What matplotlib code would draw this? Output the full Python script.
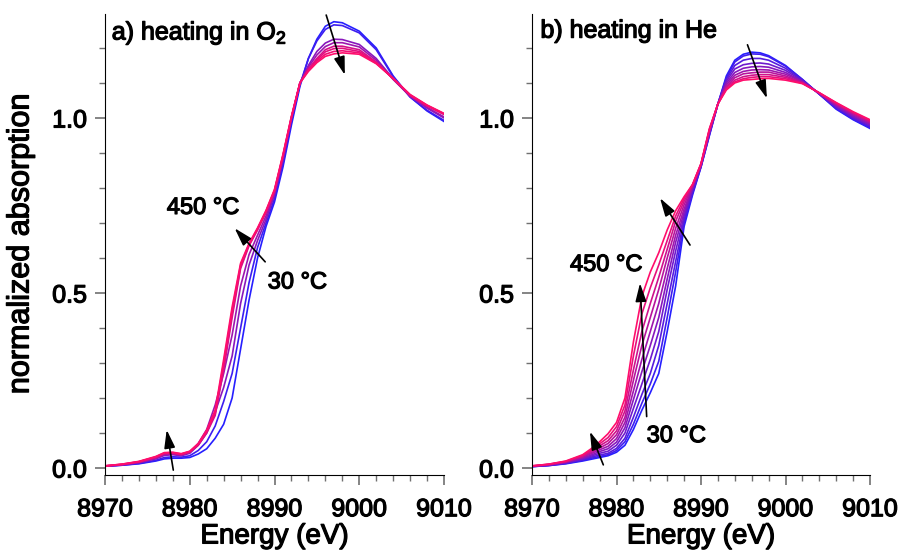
import numpy as np
import matplotlib
matplotlib.use("Agg")
import matplotlib.pyplot as plt
import matplotlib.patheffects as pe
from matplotlib.ticker import MultipleLocator

plt.rcParams['font.family'] = ['Liberation Sans', 'DejaVu Sans']
plt.rcParams['mathtext.fontset'] = 'custom'
plt.rcParams['mathtext.rm'] = 'Liberation Sans'

# energy grid (eV)
energy = [8970, 8972, 8974, 8976, 8977, 8978, 8979, 8980, 8981, 8982, 8983,
          8984, 8985, 8986, 8987, 8988, 8989, 8990, 8991, 8992, 8993, 8994,
          8995, 8996, 8997, 8998, 9000, 9002, 9004, 9006, 9008, 9010]

# a) heating in O2, 30 C (blue) -> 450 C (pink)
o2_1 = [0.005, 0.008, 0.012, 0.020, 0.026, 0.028, 0.028, 0.030, 0.040, 0.055, 0.085,
        0.125, 0.200, 0.340, 0.480, 0.600, 0.690, 0.760, 0.860, 0.980, 1.090, 1.170,
        1.225, 1.262, 1.275, 1.272, 1.248, 1.200, 1.120, 1.060, 1.020, 0.990]
o2_2 = [0.005, 0.008, 0.013, 0.022, 0.030, 0.032, 0.031, 0.035, 0.050, 0.075, 0.120,
        0.190, 0.270, 0.400, 0.530, 0.630, 0.700, 0.770, 0.870, 0.990, 1.095, 1.170,
        1.220, 1.253, 1.266, 1.264, 1.243, 1.195, 1.118, 1.060, 1.022, 0.993]
o2_3 = [0.005, 0.009, 0.015, 0.026, 0.036, 0.038, 0.035, 0.042, 0.065, 0.100, 0.160,
        0.230, 0.320, 0.470, 0.580, 0.650, 0.710, 0.780, 0.880, 1.000, 1.100, 1.150,
        1.190, 1.214, 1.225, 1.224, 1.210, 1.170, 1.112, 1.062, 1.028, 1.000]
o2_4 = [0.005, 0.009, 0.016, 0.028, 0.038, 0.040, 0.037, 0.045, 0.070, 0.110, 0.180,
        0.270, 0.380, 0.520, 0.610, 0.665, 0.720, 0.785, 0.885, 1.000, 1.100, 1.145,
        1.180, 1.204, 1.215, 1.215, 1.203, 1.165, 1.110, 1.062, 1.030, 1.003]
o2_5 = [0.006, 0.010, 0.017, 0.030, 0.041, 0.042, 0.038, 0.045, 0.065, 0.100, 0.150,
        0.280, 0.430, 0.570, 0.635, 0.680, 0.730, 0.790, 0.890, 1.000, 1.100, 1.140,
        1.170, 1.195, 1.205, 1.205, 1.195, 1.160, 1.112, 1.064, 1.034, 1.010]
o2_6 = [0.006, 0.010, 0.018, 0.031, 0.042, 0.043, 0.039, 0.046, 0.067, 0.104, 0.155,
        0.290, 0.440, 0.575, 0.638, 0.682, 0.732, 0.792, 0.892, 1.002, 1.100, 1.138,
        1.166, 1.189, 1.198, 1.199, 1.190, 1.158, 1.112, 1.065, 1.035, 1.011]
o2_7 = [0.006, 0.011, 0.018, 0.032, 0.043, 0.044, 0.040, 0.047, 0.068, 0.106, 0.160,
        0.300, 0.450, 0.580, 0.640, 0.684, 0.734, 0.794, 0.894, 1.004, 1.100, 1.136,
        1.162, 1.182, 1.190, 1.192, 1.186, 1.156, 1.113, 1.066, 1.036, 1.012]
o2_8 = [0.006, 0.011, 0.019, 0.033, 0.044, 0.045, 0.041, 0.048, 0.070, 0.108, 0.165,
        0.310, 0.460, 0.585, 0.642, 0.686, 0.736, 0.796, 0.896, 1.005, 1.100, 1.133,
        1.158, 1.176, 1.183, 1.186, 1.182, 1.155, 1.113, 1.067, 1.037, 1.013]

# b) heating in He, 30 C (blue) -> 450 C (pink)
he_1 = [0.004, 0.007, 0.012, 0.020, 0.025, 0.030, 0.035, 0.045, 0.065, 0.110, 0.165,
        0.215, 0.270, 0.390, 0.520, 0.690, 0.780, 0.860, 0.950, 1.040, 1.120, 1.165,
        1.182, 1.188, 1.186, 1.178, 1.150, 1.110, 1.068, 1.025, 0.995, 0.970]
he_2 = [0.004, 0.007, 0.013, 0.022, 0.028, 0.033, 0.038, 0.050, 0.075, 0.125, 0.185,
        0.240, 0.305, 0.430, 0.560, 0.700, 0.785, 0.860, 0.952, 1.040, 1.115, 1.160,
        1.177, 1.183, 1.182, 1.175, 1.148, 1.110, 1.068, 1.027, 0.997, 0.973]
he_3 = [0.004, 0.008, 0.014, 0.024, 0.031, 0.037, 0.042, 0.056, 0.085, 0.145, 0.210,
        0.270, 0.350, 0.470, 0.590, 0.710, 0.790, 0.862, 0.955, 1.040, 1.110, 1.150,
        1.165, 1.170, 1.170, 1.165, 1.142, 1.108, 1.068, 1.030, 1.000, 0.976]
he_4 = [0.005, 0.008, 0.015, 0.026, 0.034, 0.042, 0.048, 0.065, 0.100, 0.170, 0.240,
        0.310, 0.390, 0.510, 0.620, 0.720, 0.795, 0.864, 0.957, 1.040, 1.105, 1.140,
        1.152, 1.156, 1.157, 1.154, 1.136, 1.106, 1.069, 1.032, 1.003, 0.979]
he_5 = [0.005, 0.009, 0.016, 0.028, 0.037, 0.047, 0.055, 0.074, 0.115, 0.195, 0.275,
        0.350, 0.430, 0.540, 0.645, 0.730, 0.800, 0.865, 0.960, 1.040, 1.100, 1.130,
        1.142, 1.146, 1.147, 1.145, 1.130, 1.104, 1.070, 1.035, 1.006, 0.982]
he_6 = [0.005, 0.009, 0.017, 0.030, 0.041, 0.052, 0.062, 0.084, 0.130, 0.220, 0.310,
        0.390, 0.470, 0.570, 0.665, 0.740, 0.803, 0.866, 0.962, 1.040, 1.095, 1.122,
        1.133, 1.137, 1.138, 1.137, 1.125, 1.103, 1.070, 1.037, 1.009, 0.985]
he_7 = [0.005, 0.010, 0.018, 0.032, 0.044, 0.057, 0.070, 0.095, 0.145, 0.250, 0.350,
        0.430, 0.510, 0.600, 0.685, 0.752, 0.806, 0.867, 0.964, 1.040, 1.090, 1.115,
        1.126, 1.129, 1.131, 1.131, 1.120, 1.101, 1.071, 1.039, 1.012, 0.988]
he_8 = [0.006, 0.010, 0.018, 0.034, 0.048, 0.063, 0.078, 0.106, 0.163, 0.280, 0.390,
        0.470, 0.545, 0.625, 0.705, 0.762, 0.808, 0.868, 0.966, 1.040, 1.087, 1.108,
        1.118, 1.122, 1.124, 1.124, 1.116, 1.100, 1.071, 1.041, 1.014, 0.990]
he_9 = [0.006, 0.011, 0.019, 0.036, 0.051, 0.069, 0.087, 0.118, 0.180, 0.320, 0.440,
        0.515, 0.580, 0.650, 0.720, 0.770, 0.810, 0.869, 0.968, 1.040, 1.083, 1.103,
        1.112, 1.116, 1.118, 1.118, 1.112, 1.099, 1.072, 1.043, 1.016, 0.993]
he_10 = [0.006, 0.011, 0.020, 0.038, 0.055, 0.075, 0.098, 0.130, 0.200, 0.360, 0.490,
         0.560, 0.615, 0.680, 0.735, 0.775, 0.810, 0.870, 0.970, 1.040, 1.080, 1.100,
         1.108, 1.110, 1.112, 1.113, 1.108, 1.098, 1.072, 1.044, 1.018, 0.995]

o2_spectra = [o2_1, o2_2, o2_3, o2_4, o2_5, o2_6, o2_7, o2_8]
he_spectra = [he_1, he_2, he_3, he_4, he_5, he_6, he_7, he_8, he_9, he_10]

blue = np.array([0.15, 0.12, 1.0])
pink = np.array([1.0, 0.05, 0.42])
o2_mix = [0.0, 0.1, 0.45, 0.55, 0.8, 0.87, 0.94, 1.0]
he_mix = np.linspace(0, 1, len(he_spectra))

# regular font drawn a bit heavier, like the reference
heavy = [pe.withStroke(linewidth=0.9, foreground='k')]


def style_axes(ax):
    ax.set_xlim(8970, 9010)
    ax.set_ylim(-0.02, 1.297)
    for s in ['top', 'right']:
        ax.spines[s].set_visible(False)
    ax.xaxis.set_major_locator(MultipleLocator(10))
    ax.xaxis.set_minor_locator(MultipleLocator(2))
    ax.yaxis.set_major_locator(MultipleLocator(0.5))
    ax.yaxis.set_minor_locator(MultipleLocator(0.1))
    ax.yaxis.set_major_formatter(plt.FormatStrFormatter('%.1f'))
    ax.tick_params(which='major', length=7, width=1.2, color='#707070',
                   labelsize=18, pad=6)
    ax.tick_params(which='minor', length=4, width=1, color='#707070')
    ax.tick_params(axis='x', which='major', pad=9)
    ax.set_xlabel('Energy (eV)', fontsize=20, path_effects=heavy)
    ax.xaxis.set_label_coords(0.5, -0.105)


def arrow(ax, tail, head):
    ax.annotate('', xy=head, xytext=tail,
                arrowprops=dict(arrowstyle='-|>,head_length=1.0,head_width=0.3',
                                color='k', lw=1.2, mutation_scale=11,
                                shrinkA=0, shrinkB=0))


fig = plt.figure(figsize=(9.04, 5.52), dpi=100)
ax1 = fig.add_axes([105 / 904, 1 - 475 / 552, 339 / 904, 461 / 552])
ax2 = fig.add_axes([532 / 904, 1 - 475 / 552, 338 / 904, 461 / 552])

for spec, m in zip(o2_spectra, o2_mix):
    ax1.plot(energy, spec, color=tuple(blue + (pink - blue) * m), lw=1.2)
for spec, m in zip(he_spectra, he_mix):
    ax2.plot(energy, spec, color=tuple(blue + (pink - blue) * m), lw=1.2)

style_axes(ax1)
style_axes(ax2)
ax1.set_ylabel('normalized absorption', fontsize=22, path_effects=heavy)
ax1.yaxis.set_label_coords(-0.205, 0.5)

ax1.text(0.02, 0.99, 'a) heating in O$_2$', transform=ax1.transAxes,
         fontsize=18, va='top', ha='left', path_effects=heavy)
ax2.text(0.025, 0.99, 'b) heating in He', transform=ax2.transAxes,
         fontsize=18, va='top', ha='left', path_effects=heavy)

# arrows, panel a
arrow(ax1, (8978.06, -0.006), (8977.28, 0.109))
arrow(ax1, (8988.9, 0.589), (8985.3, 0.685))
arrow(ax1, (8996.1, 1.294), (8998.3, 1.123))
ax1.text(8977.3, 0.743, '450 °C', fontsize=17, va='center', ha='left', path_effects=heavy)
ax1.text(8989.2, 0.53, '30 °C', fontsize=17, va='center', ha='left', path_effects=heavy)

# arrows, panel b
arrow(ax2, (8978.44, 0.009), (8976.86, 0.104))
arrow(ax2, (8983.57, 0.147), (8982.78, 0.528))
arrow(ax2, (8988.7, 0.637), (8985.15, 0.771))
arrow(ax2, (8995.5, 1.209), (8997.8, 1.056))
ax2.text(8974.5, 0.58, '450 °C', fontsize=17, va='center', ha='left', path_effects=heavy)
ax2.text(8983.57, 0.091, '30 °C', fontsize=17, va='center', ha='left', path_effects=heavy)

fig.canvas.draw()
for ax in (ax1, ax2):
    for lbl in ax.get_xticklabels() + ax.get_yticklabels():
        lbl.set_path_effects(heavy)

fig.savefig('out.png', dpi=100)
